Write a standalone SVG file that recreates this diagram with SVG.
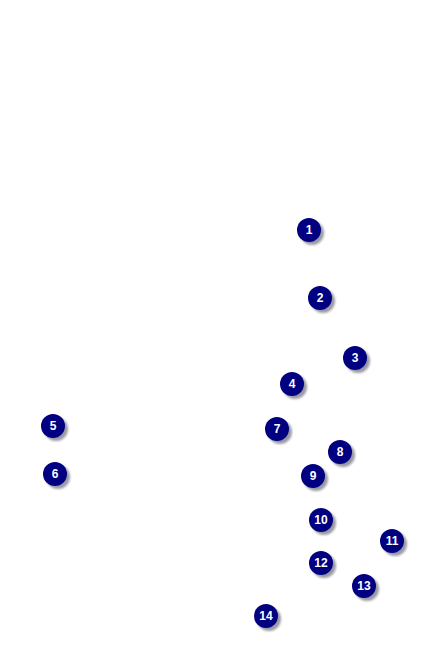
<svg xmlns="http://www.w3.org/2000/svg" width="425" height="650" viewBox="0 0 425 650">
<style>
.s{fill:#707080;opacity:0.7}
.c{fill:#000080}
.t{fill:#fff;font-family:"Liberation Sans",Arial,sans-serif;font-weight:bold;font-size:12px;text-anchor:middle}
</style>
<defs>
<filter id="b" x="-50%" y="-50%" width="200%" height="200%"><feGaussianBlur stdDeviation="1"/></filter>
</defs>
<g id="connectors"></g>
<g id="n1"><circle class="s" cx="312" cy="233" r="12" filter="url(#b)"/><circle class="c" cx="309" cy="230" r="12"/><text class="t" x="309" y="234">1</text></g>
<g id="n2"><circle class="s" cx="323" cy="301" r="12" filter="url(#b)"/><circle class="c" cx="320" cy="298" r="12"/><text class="t" x="320" y="302">2</text></g>
<g id="n3"><circle class="s" cx="358" cy="361" r="12" filter="url(#b)"/><circle class="c" cx="355" cy="358" r="12"/><text class="t" x="355" y="362">3</text></g>
<g id="n4"><circle class="s" cx="295" cy="387" r="12" filter="url(#b)"/><circle class="c" cx="292" cy="384" r="12"/><text class="t" x="292" y="388">4</text></g>
<g id="n5"><circle class="s" cx="56" cy="429" r="12" filter="url(#b)"/><circle class="c" cx="53" cy="426" r="12"/><text class="t" x="53" y="430">5</text></g>
<g id="n6"><circle class="s" cx="58" cy="477" r="12" filter="url(#b)"/><circle class="c" cx="55" cy="474" r="12"/><text class="t" x="55" y="478">6</text></g>
<g id="n7"><circle class="s" cx="280" cy="432" r="12" filter="url(#b)"/><circle class="c" cx="277" cy="429" r="12"/><text class="t" x="277" y="433">7</text></g>
<g id="n8"><circle class="s" cx="343" cy="455" r="12" filter="url(#b)"/><circle class="c" cx="340" cy="452" r="12"/><text class="t" x="340" y="456">8</text></g>
<g id="n9"><circle class="s" cx="316" cy="479" r="12" filter="url(#b)"/><circle class="c" cx="313" cy="476" r="12"/><text class="t" x="313" y="480">9</text></g>
<g id="n10"><circle class="s" cx="324" cy="523" r="12" filter="url(#b)"/><circle class="c" cx="321" cy="520" r="12"/><text class="t" x="321" y="524">10</text></g>
<g id="n11"><circle class="s" cx="395" cy="544" r="12" filter="url(#b)"/><circle class="c" cx="392" cy="541" r="12"/><text class="t" x="392" y="545">11</text></g>
<g id="n12"><circle class="s" cx="324" cy="566" r="12" filter="url(#b)"/><circle class="c" cx="321" cy="563" r="12"/><text class="t" x="321" y="567">12</text></g>
<g id="n13"><circle class="s" cx="367" cy="589" r="12" filter="url(#b)"/><circle class="c" cx="364" cy="586" r="12"/><text class="t" x="364" y="590">13</text></g>
<g id="n14"><circle class="s" cx="269" cy="619" r="12" filter="url(#b)"/><circle class="c" cx="266" cy="616" r="12"/><text class="t" x="266" y="620">14</text></g>
</svg>
